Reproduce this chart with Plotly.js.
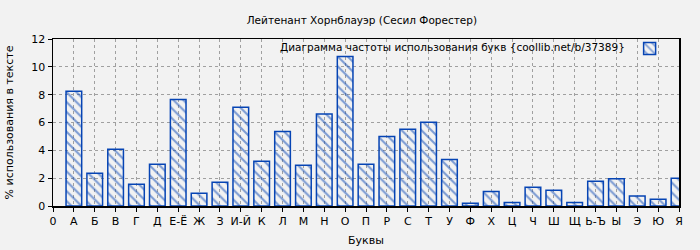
<!DOCTYPE html>
<html>
<head>
<meta charset="utf-8">
<script src="https://cdn.plot.ly/plotly-3.0.1.min.js"></script>
<style>body{margin:0;background:#f2f2f2;}#chart{width:700px;height:250px;}</style>
</head>
<body>
<div id="chart"></div>
<script>
var letters = ['А','Б','В','Г','Д','Е-Ё','Ж','З','И-Й','К','Л','М','Н','О','П','Р','С','Т','У','Ф','Х','Ц','Ч','Ш','Щ','Ь-Ъ','Ы','Э','Ю','Я'];
var values = [8.25,2.35,4.07,1.56,3.0,7.66,0.91,1.70,7.09,3.21,5.36,2.92,6.61,10.75,3.0,5.0,5.51,6.01,3.35,0.19,1.05,0.26,1.34,1.13,0.26,1.77,1.96,0.72,0.48,1.99];
var tickLabels = ['0'].concat(letters);
var chartTitle = 'Лейтенант Хорнблауэр (Сесил Форестер)';
var seriesName = 'Диаграмма частоты использования букв {coollib.net/b/37389}';
var xTitle = 'Буквы';
var yTitle = '% использования в тексте';

var positions = letters.map(function(_, i){ return i + 1; });
var tickPositions = tickLabels.map(function(_, i){ return i; });

var blue = '#0644b4';
var trace = {
  type: 'bar',
  x: positions,
  y: values,
  width: 0.75,
  name: ' ',
  showlegend: true,
  marker: {
    color: 'rgba(0,0,0,0)',
    line: {color: blue, width: 1.5},
    pattern: {shape: '\\', fgcolor: blue, bgcolor: 'rgba(0,0,0,0)', size: 7, solidity: 0.3, fillmode: 'overlay'}
  },
  hoverinfo: 'x+y'
};

var layout = {
  width: 700, height: 250,
  paper_bgcolor: '#f2f2f2', plot_bgcolor: '#f2f2f2',
  margin: {l: 53, r: 21, t: 39, b: 44},
  font: {family: 'DejaVu Sans', size: 11, color: '#000'},
  title: {text: chartTitle, font: {family: 'DejaVu Sans', size: 10.5, color: '#000'}, x: 0.517, xanchor: 'center', y: 0.92, yanchor: 'middle'},
  xaxis: {
    range: [0, 30], tickvals: tickPositions, ticktext: tickLabels,
    ticks: 'outside', ticklen: 4, tickcolor: '#000', tickwidth: 1,
    showline: true, linecolor: '#000', linewidth: 1.5, mirror: true,
    showgrid: true, gridcolor: '#a0a0a0', griddash: 'dot', gridwidth: 1,
    zeroline: false, tickfont: {family: 'DejaVu Sans', size: 11},
    title: {text: xTitle, font: {family: 'DejaVu Sans', size: 11}, standoff: 9}
  },
  yaxis: {
    range: [0, 12], dtick: 2, tick0: 0,
    ticks: 'outside', ticklen: 4, tickcolor: '#000', tickwidth: 1,
    showline: true, linecolor: '#000', linewidth: 1.5, mirror: true,
    showgrid: true, gridcolor: '#a0a0a0', griddash: 'dot', gridwidth: 1,
    zeroline: false, tickfont: {family: 'DejaVu Sans', size: 11},
    title: {text: yTitle, font: {family: 'DejaVu Sans', size: 11}, standoff: 15}
  },
  legend: {x: 0.9994, xanchor: 'right', y: 1.03, yanchor: 'top', bgcolor: 'rgba(0,0,0,0)', itemwidth: 30, font: {family: 'DejaVu Sans', size: 10.5}},
  annotations: [{
    text: seriesName, xref: 'paper', yref: 'paper', x: 0.917, y: 0.95, xanchor: 'right', yanchor: 'middle',
    showarrow: false, font: {family: 'DejaVu Sans', size: 10.5, color: '#000'}
  }],
  bargap: 0.25
};

Plotly.newPlot('chart', [trace], layout, {displayModeBar: false, staticPlot: true});
</script>
</body>
</html>
